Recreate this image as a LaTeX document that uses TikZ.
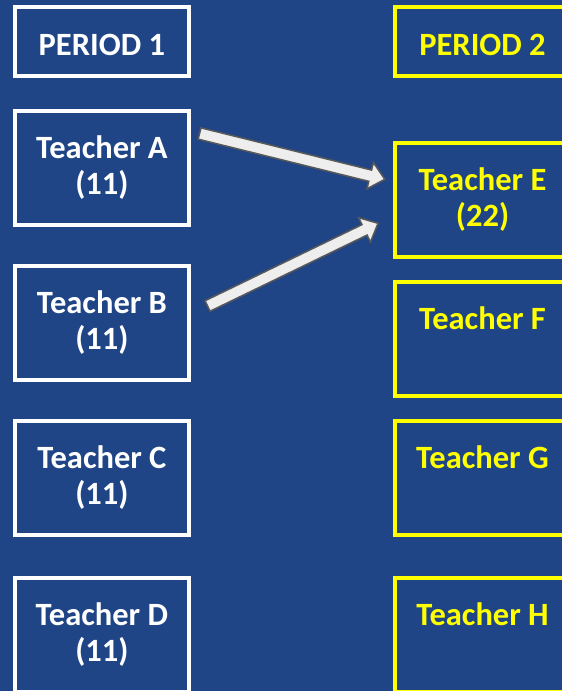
\documentclass[tikz,border=0pt]{standalone}
\usepackage{fontspec}
\setmainfont{Carlito}
\usetikzlibrary{calc}
\definecolor{bgblue}{RGB}{31,69,134}
\definecolor{arrowfill}{RGB}{238,238,238}
\definecolor{arrowline}{RGB}{89,89,89}
\definecolor{periodyellow}{RGB}{255,255,0}
\tikzset{
  box/.style={draw, line width=4pt, minimum width=174.3pt, inner sep=0pt, align=center,
    font=\fontsize{32.5}{36}\selectfont\bfseries},
  teacherbox/.style={box, minimum height=114pt},
  periodbox/.style={box, minimum height=69pt, text height=27pt, text depth=0pt},
  leftcol/.style={draw=white, text=white},
  rightcol/.style={draw=periodyellow, text=periodyellow},
  blockarrow/.style={draw=arrowline, fill=arrowfill, line width=1.5pt, line join=miter},
}
\newcommand{\myblockarrow}[2]{%
  \coordinate (#1h) at ($(#2)!15pt!(#1)$);
  \draw[blockarrow]
    ($(#1)!5.8pt!90:(#2)$) -- ($(#1h)!5.8pt!90:(#2)$) -- ($(#1h)!13.5pt!90:(#2)$)
    -- (#2) -- ($(#1h)!13.5pt!-90:(#2)$) -- ($(#1h)!5.8pt!-90:(#2)$)
    -- ($(#1)!5.8pt!-90:(#2)$) -- cycle;
}
\begin{document}
\begin{tikzpicture}[x=1pt,y=-1pt]
  \useasboundingbox (0,0) rectangle (562,691);
  \fill[bgblue] (0,0) rectangle (562,691);

  \node[periodbox,leftcol] (P1) at (101.9,41.5) {PERIOD 1};
  \node[teacherbox,leftcol] (A) at (101.9,168) {Teacher A\\(11)};
  \node[teacherbox,leftcol] (B) at (101.9,323) {Teacher B\\(11)};
  \node[teacherbox,leftcol] (C) at (101.9,478) {Teacher C\\(11)};
  \node[teacherbox,leftcol] (D) at (101.9,635) {Teacher D\\(11)};

  \node[periodbox,rightcol] (P2) at (482.5,41.5) {PERIOD 2};
  \node[teacherbox,rightcol] (E) at (482.5,200) {Teacher E\\(22)};
  \node[teacherbox,rightcol] (F) at (482.5,339) {Teacher F\\\phantom{(22)}};
  \node[teacherbox,rightcol] (G) at (482.5,478) {Teacher G\\\phantom{(22)}};
  \node[teacherbox,rightcol] (H) at (482.5,635) {Teacher H\\\phantom{(22)}};

  \coordinate (s1) at ($(A.east)+(8.5,-34.5)$);
  \coordinate (t1) at ($(E.west)+(-8.6,-20.7)$);
  \coordinate (s2) at ($(B.east)+(16.5,-17)$);
  \coordinate (t2) at ($(E.west)+(-15.3,23.3)$);
  \myblockarrow{s1}{t1}
  \myblockarrow{s2}{t2}
\end{tikzpicture}
\end{document}
